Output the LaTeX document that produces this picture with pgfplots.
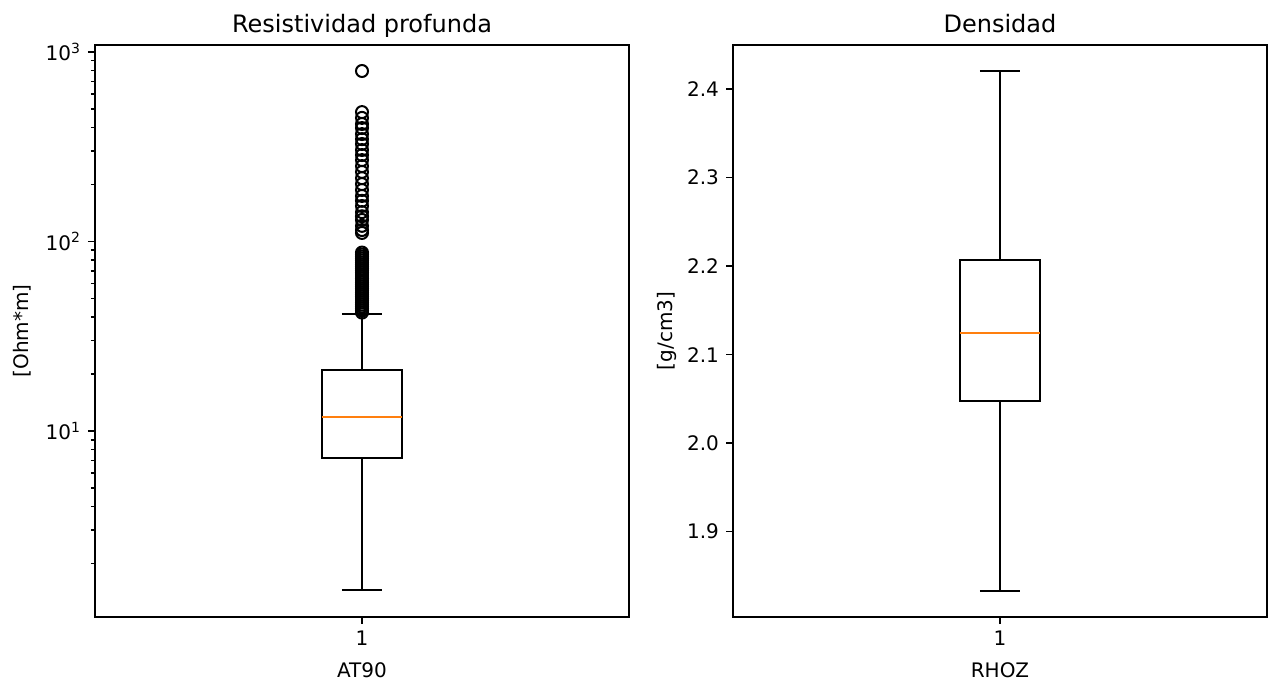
\documentclass[border=0pt]{standalone}
\usepackage{pgfplots}
\pgfplotsset{compat=1.18}
\usepackage{fontspec}
\setmainfont{DejaVu Sans}
\definecolor{mplorange}{HTML}{FF7F0E}

\pgfplotsset{
  mplbox/.style={
    scale only axis, width=267pt, height=286pt,
    xmin=0.5, xmax=1.5, xtick={1}, xticklabels={1},
    tick align=outside, tick pos=left,
    major tick length=3.5pt, minor tick length=2pt,
    tick style={black, line width=0.8pt},
    axis line style={black, line width=0.8pt},
    /pgf/number format/assume math mode=true,
    tick label style={font=\fontsize{10}{12}\selectfont},
    label style={font=\fontsize{10}{12}\selectfont},
    title style={font=\fontsize{12}{14}\selectfont,
      at={(axis description cs:0.5,1.0)}, anchor=base},
    every axis x label/.style={at={(axis description cs:0.5,-0.1049)}, anchor=base},
  },
  boxline/.style={black, line width=1pt, line join=miter, mark=none},
}

\begin{document}
\begin{tikzpicture}
\useasboundingbox (0,0) rectangle (635.5pt,340.5pt);

% Deep resistivity (log scale): box 7.18--21.0, median 11.9, whiskers 1.45 / 41.7
\begin{axis}[mplbox, at={(47.5pt,32pt)}, anchor=south west,
  ymode=log, ymin=1.045, ymax=1089,
  ytick={10,100,1000},
  yticklabels={10\textsuperscript{1},10\textsuperscript{2},10\textsuperscript{3}},
  minor ytick={2,3,4,5,6,7,8,9,20,30,40,50,60,70,80,90,200,300,400,500,600,700,800,900},
  title={Resistividad profunda}, xlabel={AT90}, ylabel={[Ohm*m]},
  every axis y label/.style={at={(axis description cs:-0.1236,0.5)}, rotate=90, anchor=base},
]
\addplot[boxline] coordinates {(0.925,7.18) (1.075,7.18) (1.075,21.0) (0.925,21.0)} -- cycle;
\addplot[boxline] coordinates {(1,7.18) (1,1.45)};
\addplot[boxline] coordinates {(0.9625,1.45) (1.0375,1.45)};
\addplot[boxline] coordinates {(1,21.0) (1,41.7)};
\addplot[boxline] coordinates {(0.9625,41.7) (1.0375,41.7)};
\addplot[boxline, draw=mplorange] coordinates {(0.925,11.9) (1.075,11.9)};
% outliers above the upper whisker
\addplot[only marks, mark=o, mark size=3pt, black, mark options={line width=1pt}]
  coordinates {
  (1,794) (1,482) (1,449) (1,417) (1,397) (1,369) (1,347) (1,327) (1,304)
  (1,286) (1,269) (1,250) (1,233) (1,216) (1,201) (1,187) (1,174) (1,164)
  (1,154) (1,143) (1,136) (1,130) (1,121) (1,115) (1,111)
  (1,87.5) (1,85.4) (1,83.3) (1,81.3) (1,79.4) (1,77.5) (1,75.6) (1,73.8)
  (1,72.0) (1,70.3) (1,68.6) (1,66.9) (1,65.3) (1,63.8) (1,62.2) (1,60.8)
  (1,59.3) (1,57.9) (1,56.5) (1,55.1) (1,53.8) (1,52.5) (1,51.3) (1,50.0)
  (1,48.8) (1,47.7) (1,46.5) (1,45.4) (1,44.3) (1,43.3) (1,42.2)
  };
\end{axis}

% Density: box 2.0476--2.2068, median 2.125, whiskers 1.833 / 2.4205
\begin{axis}[mplbox, at={(366.5pt,32pt)}, anchor=south west,
  ymin=1.8036, ymax=2.4499,
  ytick={1.9,2.0,2.1,2.2,2.3,2.4},
  yticklabel style={/pgf/number format/.cd, fixed, fixed zerofill, precision=1},
  title={Densidad}, xlabel={RHOZ}, ylabel={[g/cm3]},
  every axis y label/.style={at={(axis description cs:-0.1124,0.5)}, rotate=90, anchor=base},
]
\addplot[boxline] coordinates {(0.925,2.0476) (1.075,2.0476) (1.075,2.2068) (0.925,2.2068)} -- cycle;
\addplot[boxline] coordinates {(1,2.0476) (1,1.833)};
\addplot[boxline] coordinates {(0.9625,1.833) (1.0375,1.833)};
\addplot[boxline] coordinates {(1,2.2068) (1,2.4205)};
\addplot[boxline] coordinates {(0.9625,2.4205) (1.0375,2.4205)};
\addplot[boxline, draw=mplorange] coordinates {(0.925,2.125) (1.075,2.125)};
\end{axis}
\end{tikzpicture}
\end{document}
